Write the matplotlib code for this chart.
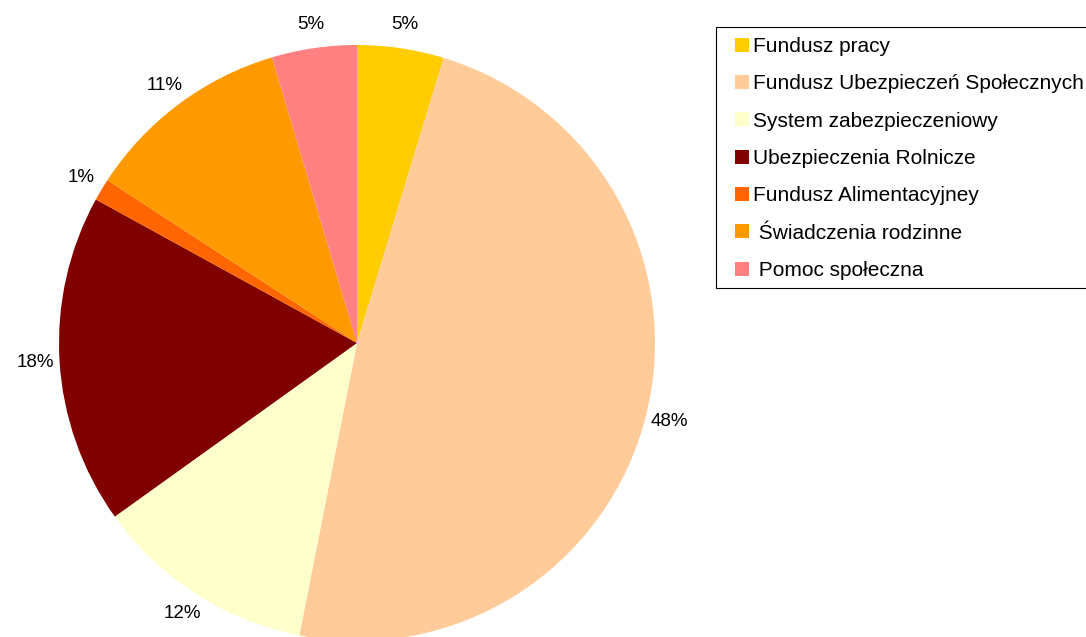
import matplotlib.pyplot as plt
from matplotlib.patches import Rectangle

plt.rcParams['font.family'] = ['Liberation Sans', 'DejaVu Sans']

labels = ["Fundusz pracy", "Fundusz Ubezpieczeń Społecznych", "System zabezpieczeniowy",
          "Ubezpieczenia Rolnicze", "Fundusz Alimentacyjney", " Świadczenia rodzinne",
          " Pomoc społeczna"]
shares = [4.7, 48.4, 12.0, 17.9, 1.2, 11.2, 4.6]
colours = ["#FFCC00", "#FFCC99", "#FFFFCC", "#800000", "#FF6600", "#FF9900", "#FF8080"]

W, H = 1086, 637
fig = plt.figure(figsize=(W / 100, H / 100), dpi=100)

# pie centre and radius in pixels
cx, cy, r = 357, 343, 298
ax = fig.add_axes([(cx - r) / W, (H - cy - r) / H, 2 * r / W, 2 * r / H])
wedges, texts, autotexts = ax.pie(shares, colors=colours, startangle=90, counterclock=False,
                                  autopct='%.0f%%', pctdistance=1.08, radius=1,
                                  wedgeprops=dict(linewidth=0),
                                  textprops=dict(fontsize=13.5, color='black'))
for w in wedges:
    w.set_clip_on(False)
ax.set_xlim(-1, 1)
ax.set_ylim(-1, 1)
ax.set_aspect('equal')
ax.axis('off')

# legend frame drawn by hand, runs off the right edge like the original
fig.patches.append(Rectangle((716 / W, 1 - 288 / H), 380 / W, 261 / H, transform=fig.transFigure,
                             facecolor='white', edgecolor='black', linewidth=0.8))

leg = fig.legend(wedges, labels, loc='upper left', bbox_to_anchor=(735 / W, 1 - 37 / H),
                 fontsize=15, frameon=False, borderaxespad=0, borderpad=0,
                 handlelength=0.65, handleheight=0.65, handletextpad=0.2,
                 labelspacing=0.88)

fig.savefig('out.png', dpi=100)
